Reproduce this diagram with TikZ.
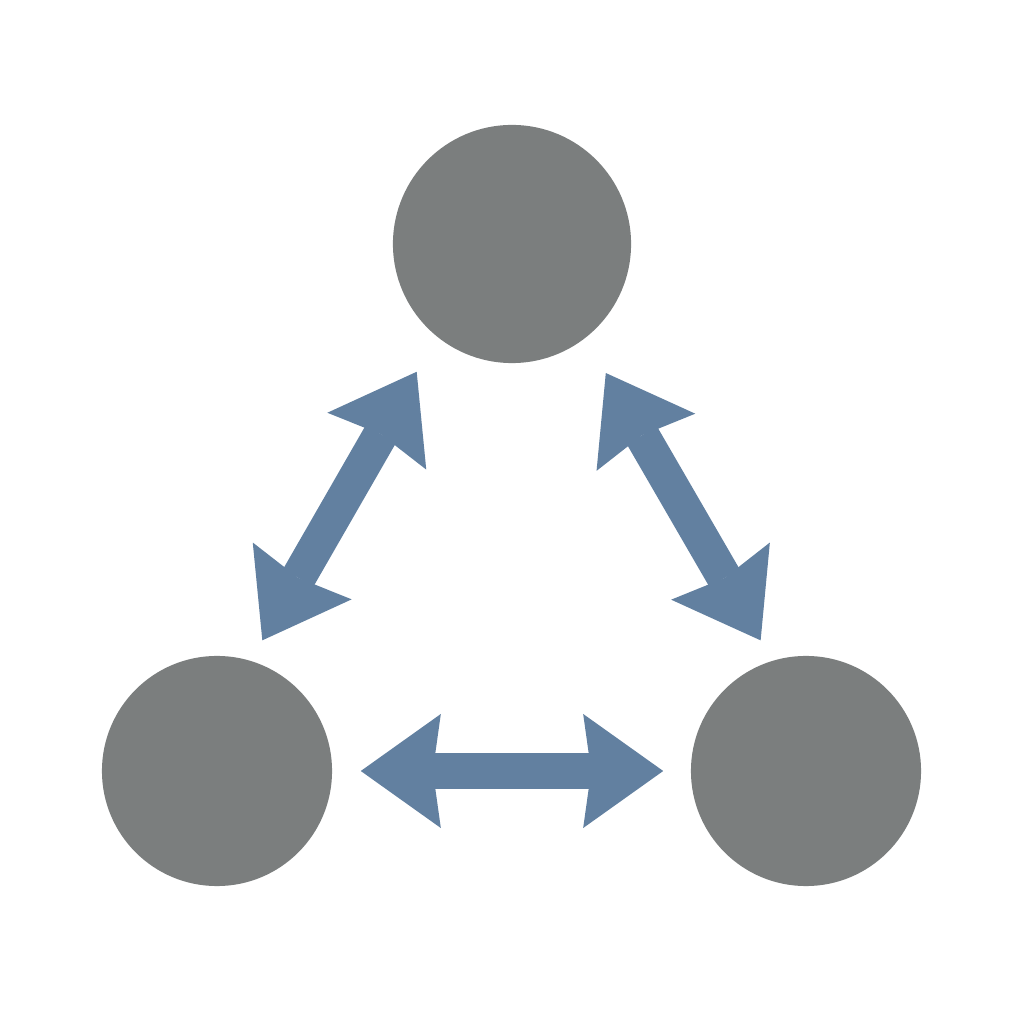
\documentclass[tikz,border=0pt]{standalone}
\usetikzlibrary{arrows.meta}
\definecolor{ballgrey}{RGB}{123,126,126}
\definecolor{arrowblue}{RGB}{98,128,160}
\begin{document}
\begin{tikzpicture}[x=0.01cm,y=0.01cm,
	ball/.style={circle,fill=ballgrey,inner sep=0pt},
	link/.style={arrowblue,line width=0.35cm,
		{Stealth[length=0.8cm,width=1.14cm,inset=0.08cm,line width=0pt]}-{Stealth[length=0.8cm,width=1.14cm,inset=0.08cm,line width=0pt]}}]
		\useasboundingbox (0,0) rectangle (1024,1024);
		\node[ball,minimum size=2.38cm] (top) at (512,780) {};
		\node[ball,minimum size=2.30cm] (bl) at (217,253) {};
		\node[ball,minimum size=2.30cm] (br) at (806,253) {};
		\draw[link,shorten <=0.23cm,shorten >=0.40cm] (bl.73) -- (top.231.6);
		\draw[link,shorten <=0.23cm,shorten >=0.40cm] (br.107) -- (top.308.4);
		\draw[link,shorten <=0.28cm,shorten >=0.27cm] (bl) -- (br);
		%\draw[link] (bl.east) -- (br.west);
\end{tikzpicture}
\end{document}
